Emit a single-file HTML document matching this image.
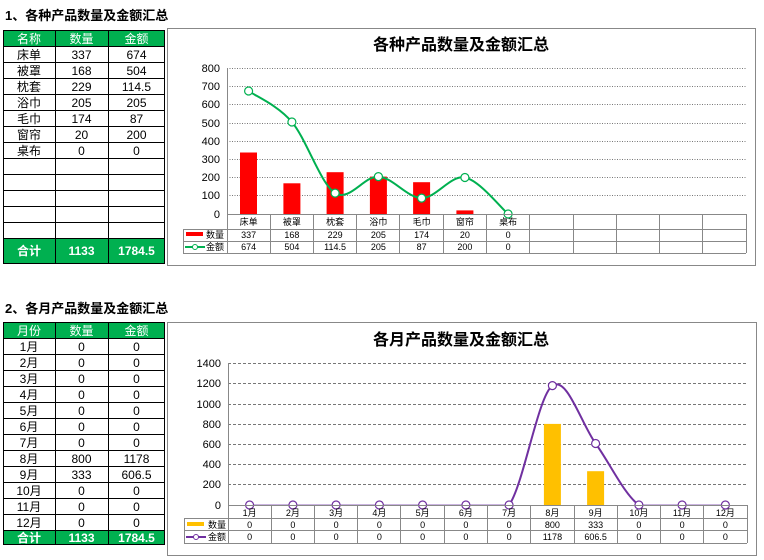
<!DOCTYPE html>
<html><head><meta charset="utf-8"><style>
body{margin:0;background:#fff;}
svg{display:block;font-family:"Liberation Sans","Noto Sans CJK SC",sans-serif;}
</style></head><body>
<svg width="764" height="560" viewBox="0 0 764 560" xmlns="http://www.w3.org/2000/svg">
<rect width="764" height="560" fill="#fff"/>
<text x="5" y="20" font-size="13" font-weight="bold" fill="#000">1、各种产品数量及金额汇总</text>
<text x="5" y="313" font-size="13" font-weight="bold" fill="#000">2、各月产品数量及金额汇总</text>

<!-- Table 1 -->
<rect x="3" y="30" width="162" height="16" fill="#00B050"/>
<rect x="3" y="238" width="162" height="26" fill="#00B050"/>
<g stroke="#000" stroke-width="1" fill="none">
<rect x="3.5" y="30.5" width="161" height="233"/>
<line x1="55.5" y1="30" x2="55.5" y2="264"/><line x1="108.5" y1="30" x2="108.5" y2="264"/>
<line x1="3" y1="46.5" x2="165" y2="46.5"/><line x1="3" y1="62.5" x2="165" y2="62.5"/><line x1="3" y1="78.5" x2="165" y2="78.5"/><line x1="3" y1="94.5" x2="165" y2="94.5"/><line x1="3" y1="110.5" x2="165" y2="110.5"/><line x1="3" y1="126.5" x2="165" y2="126.5"/><line x1="3" y1="142.5" x2="165" y2="142.5"/><line x1="3" y1="158.5" x2="165" y2="158.5"/><line x1="3" y1="174.5" x2="165" y2="174.5"/><line x1="3" y1="190.5" x2="165" y2="190.5"/><line x1="3" y1="206.5" x2="165" y2="206.5"/><line x1="3" y1="222.5" x2="165" y2="222.5"/><line x1="3" y1="238.5" x2="165" y2="238.5"/>
</g>
<g font-size="12" text-anchor="middle" fill="#000">
<text x="29" y="43" fill="#fff">名称</text><text x="81.5" y="43" fill="#fff">数量</text><text x="136.5" y="43" fill="#fff">金额</text>
<text x="29" y="59">床单</text><text x="81.5" y="59">337</text><text x="136.5" y="59">674</text>
<text x="29" y="75">被罩</text><text x="81.5" y="75">168</text><text x="136.5" y="75">504</text>
<text x="29" y="91">枕套</text><text x="81.5" y="91">229</text><text x="136.5" y="91">114.5</text>
<text x="29" y="107">浴巾</text><text x="81.5" y="107">205</text><text x="136.5" y="107">205</text>
<text x="29" y="123">毛巾</text><text x="81.5" y="123">174</text><text x="136.5" y="123">87</text>
<text x="29" y="139">窗帘</text><text x="81.5" y="139">20</text><text x="136.5" y="139">200</text>
<text x="29" y="155">桌布</text><text x="81.5" y="155">0</text><text x="136.5" y="155">0</text>
<text x="29" y="255" fill="#fff" font-weight="bold">合计</text><text x="81.5" y="255" fill="#fff" font-weight="bold">1133</text><text x="136.5" y="255" fill="#fff" font-weight="bold">1784.5</text>
</g>

<!-- Table 2 -->
<rect x="3" y="322" width="162" height="16" fill="#00B050"/>
<rect x="3" y="530" width="162" height="15" fill="#00B050"/>
<g stroke="#000" stroke-width="1" fill="none">
<rect x="3.5" y="322.5" width="161" height="222"/>
<line x1="55.5" y1="322" x2="55.5" y2="545"/><line x1="108.5" y1="322" x2="108.5" y2="545"/>
<line x1="3" y1="338.5" x2="165" y2="338.5"/><line x1="3" y1="354.5" x2="165" y2="354.5"/><line x1="3" y1="370.5" x2="165" y2="370.5"/><line x1="3" y1="386.5" x2="165" y2="386.5"/><line x1="3" y1="402.5" x2="165" y2="402.5"/><line x1="3" y1="418.5" x2="165" y2="418.5"/><line x1="3" y1="434.5" x2="165" y2="434.5"/><line x1="3" y1="450.5" x2="165" y2="450.5"/><line x1="3" y1="466.5" x2="165" y2="466.5"/><line x1="3" y1="482.5" x2="165" y2="482.5"/><line x1="3" y1="498.5" x2="165" y2="498.5"/><line x1="3" y1="514.5" x2="165" y2="514.5"/><line x1="3" y1="530.5" x2="165" y2="530.5"/>
</g>
<g font-size="12" text-anchor="middle" fill="#000">
<text x="29" y="335" fill="#fff">月份</text><text x="81.5" y="335" fill="#fff">数量</text><text x="136.5" y="335" fill="#fff">金额</text>
<text x="29" y="351">1月</text><text x="81.5" y="351">0</text><text x="136.5" y="351">0</text>
<text x="29" y="367">2月</text><text x="81.5" y="367">0</text><text x="136.5" y="367">0</text>
<text x="29" y="383">3月</text><text x="81.5" y="383">0</text><text x="136.5" y="383">0</text>
<text x="29" y="399">4月</text><text x="81.5" y="399">0</text><text x="136.5" y="399">0</text>
<text x="29" y="415">5月</text><text x="81.5" y="415">0</text><text x="136.5" y="415">0</text>
<text x="29" y="431">6月</text><text x="81.5" y="431">0</text><text x="136.5" y="431">0</text>
<text x="29" y="447">7月</text><text x="81.5" y="447">0</text><text x="136.5" y="447">0</text>
<text x="29" y="463">8月</text><text x="81.5" y="463">800</text><text x="136.5" y="463">1178</text>
<text x="29" y="479">9月</text><text x="81.5" y="479">333</text><text x="136.5" y="479">606.5</text>
<text x="29" y="495">10月</text><text x="81.5" y="495">0</text><text x="136.5" y="495">0</text>
<text x="29" y="511">11月</text><text x="81.5" y="511">0</text><text x="136.5" y="511">0</text>
<text x="29" y="527">12月</text><text x="81.5" y="527">0</text><text x="136.5" y="527">0</text>
<text x="29" y="542" fill="#fff" font-weight="bold">合计</text><text x="81.5" y="542" fill="#fff" font-weight="bold">1133</text><text x="136.5" y="542" fill="#fff" font-weight="bold">1784.5</text>
</g>

<!-- Chart 1 -->
<rect x="167.5" y="28.5" width="588" height="237" fill="#fff" stroke="#888"/>
<text x="461" y="50" font-size="16" font-weight="bold" text-anchor="middle">各种产品数量及金额汇总</text>
<g stroke="#777" stroke-dasharray="1,1.5" stroke-width="1">
<line x1="227" y1="68.5" x2="746" y2="68.5"/><line x1="227" y1="86.5" x2="746" y2="86.5"/><line x1="227" y1="104.5" x2="746" y2="104.5"/><line x1="227" y1="123.5" x2="746" y2="123.5"/><line x1="227" y1="141.5" x2="746" y2="141.5"/><line x1="227" y1="159.5" x2="746" y2="159.5"/><line x1="227" y1="177.5" x2="746" y2="177.5"/><line x1="227" y1="195.5" x2="746" y2="195.5"/>
</g>
<line x1="227.5" y1="68" x2="227.5" y2="253" stroke="#888"/>
<g font-size="11" text-anchor="end" fill="#000">
<text x="220" y="72">800</text><text x="220" y="90">700</text><text x="220" y="108">600</text><text x="220" y="127">500</text><text x="220" y="145">400</text><text x="220" y="163">300</text><text x="220" y="181">200</text><text x="220" y="199">100</text><text x="220" y="218">0</text>
</g>
<g fill="#FF0000">
<rect x="240" y="152.5" width="17" height="61.5"/><rect x="283.4" y="183.3" width="17" height="30.7"/><rect x="326.6" y="172.2" width="17" height="41.8"/><rect x="369.9" y="176.6" width="17" height="37.4"/><rect x="413.1" y="182.2" width="17" height="31.8"/><rect x="456.4" y="210.4" width="17" height="3.6"/>
</g>
<path d="M248.6,91 C255.8,96.2 277.5,105 291.9,122 C306.3,139 320.7,184 335.1,193.1 C349.5,202.2 364,175.8 378.4,176.6 C392.8,177.4 407.2,197.9 421.6,198.1 C436,198.3 450.5,174.9 464.9,177.5 C479.3,180.2 500.9,207.9 508.1,214" fill="none" stroke="#00B050" stroke-width="2"/>
<g fill="#fff" stroke="#00B050" stroke-width="1.2">
<circle cx="248.6" cy="91" r="4"/><circle cx="291.9" cy="122" r="4"/><circle cx="335.1" cy="193.1" r="4"/><circle cx="378.4" cy="176.6" r="4"/><circle cx="421.6" cy="198.1" r="4"/><circle cx="464.9" cy="177.5" r="4"/><circle cx="508.1" cy="214" r="4"/>
</g>
<g stroke="#888" stroke-width="1" fill="none">
<line x1="227" y1="214.5" x2="746" y2="214.5"/><line x1="183" y1="229.5" x2="746" y2="229.5"/><line x1="183" y1="241.5" x2="746" y2="241.5"/><line x1="183" y1="253.5" x2="746" y2="253.5"/>
<line x1="183.5" y1="229" x2="183.5" y2="253"/>
<line x1="270.5" y1="214" x2="270.5" y2="253"/><line x1="313.5" y1="214" x2="313.5" y2="253"/><line x1="356.5" y1="214" x2="356.5" y2="253"/><line x1="399.5" y1="214" x2="399.5" y2="253"/><line x1="443.5" y1="214" x2="443.5" y2="253"/><line x1="486.5" y1="214" x2="486.5" y2="253"/><line x1="529.5" y1="214" x2="529.5" y2="253"/><line x1="573.5" y1="214" x2="573.5" y2="253"/><line x1="616.5" y1="214" x2="616.5" y2="253"/><line x1="659.5" y1="214" x2="659.5" y2="253"/><line x1="702.5" y1="214" x2="702.5" y2="253"/><line x1="746.5" y1="214" x2="746.5" y2="253"/>
</g>
<rect x="186" y="232" width="17" height="4" fill="#FF0000"/>
<line x1="185" y1="247" x2="205" y2="247" stroke="#00B050" stroke-width="2"/><circle cx="195" cy="247" r="2.5" fill="#fff" stroke="#00B050"/>
<g font-size="9" text-anchor="middle" fill="#000">
<text x="215" y="238">数量</text><text x="215" y="250">金额</text>
<text x="248.6" y="225">床单</text><text x="291.9" y="225">被罩</text><text x="335.1" y="225">枕套</text><text x="378.4" y="225">浴巾</text><text x="421.6" y="225">毛巾</text><text x="464.9" y="225">窗帘</text><text x="508.1" y="225">桌布</text>
<text x="248.6" y="238">337</text><text x="291.9" y="238">168</text><text x="335.1" y="238">229</text><text x="378.4" y="238">205</text><text x="421.6" y="238">174</text><text x="464.9" y="238">20</text><text x="508.1" y="238">0</text>
<text x="248.6" y="250">674</text><text x="291.9" y="250">504</text><text x="335.1" y="250">114.5</text><text x="378.4" y="250">205</text><text x="421.6" y="250">87</text><text x="464.9" y="250">200</text><text x="508.1" y="250">0</text>
</g>

<!-- Chart 2 -->
<rect x="167.5" y="322.5" width="589" height="233" fill="#fff" stroke="#888"/>
<text x="461" y="345" font-size="16" font-weight="bold" text-anchor="middle">各月产品数量及金额汇总</text>
<g stroke="#777" stroke-dasharray="3,2" stroke-width="1">
<line x1="228" y1="363.5" x2="747" y2="363.5"/><line x1="228" y1="383.5" x2="747" y2="383.5"/><line x1="228" y1="404.5" x2="747" y2="404.5"/><line x1="228" y1="424.5" x2="747" y2="424.5"/><line x1="228" y1="444.5" x2="747" y2="444.5"/><line x1="228" y1="464.5" x2="747" y2="464.5"/><line x1="228" y1="484.5" x2="747" y2="484.5"/>
</g>
<line x1="228.5" y1="363" x2="228.5" y2="543" stroke="#888"/>
<g font-size="11" text-anchor="end" fill="#000">
<text x="221" y="367">1400</text><text x="221" y="387">1200</text><text x="221" y="408">1000</text><text x="221" y="428">800</text><text x="221" y="448">600</text><text x="221" y="468">400</text><text x="221" y="488">200</text><text x="221" y="509">0</text>
</g>
<g fill="#FFC000">
<rect x="543.9" y="423.9" width="17" height="81.1"/><rect x="587.1" y="471.2" width="17" height="33.8"/>
</g>
<line x1="249.6" y1="505" x2="509.1" y2="505" stroke="#C9B3DF" stroke-width="2"/>
<line x1="638.9" y1="505" x2="725.4" y2="505" stroke="#C9B3DF" stroke-width="2"/>
<path d="M509.1,505 C523.5,485.1 538,395.9 552.4,385.6 C566.8,375.4 581.2,423.6 595.6,443.5 C610,463.4 624.5,494.8 638.9,505" fill="none" stroke="#7030A0" stroke-width="2"/>
<g fill="#fff" stroke="#7030A0" stroke-width="1.2">
<circle cx="249.6" cy="505" r="4"/><circle cx="292.9" cy="505" r="4"/><circle cx="336.1" cy="505" r="4"/><circle cx="379.4" cy="505" r="4"/><circle cx="422.6" cy="505" r="4"/><circle cx="465.9" cy="505" r="4"/><circle cx="509.1" cy="505" r="4"/><circle cx="552.4" cy="385.6" r="4"/><circle cx="595.6" cy="443.5" r="4"/><circle cx="638.9" cy="505" r="4"/><circle cx="682.1" cy="505" r="4"/><circle cx="725.4" cy="505" r="4"/>
</g>
<g stroke="#888" stroke-width="1" fill="none">
<line x1="228" y1="505.5" x2="747" y2="505.5"/><line x1="184" y1="518.5" x2="747" y2="518.5"/><line x1="184" y1="530.5" x2="747" y2="530.5"/><line x1="184" y1="543.5" x2="747" y2="543.5"/>
<line x1="184.5" y1="518" x2="184.5" y2="543"/>
<line x1="271.5" y1="505" x2="271.5" y2="543"/><line x1="314.5" y1="505" x2="314.5" y2="543"/><line x1="357.5" y1="505" x2="357.5" y2="543"/><line x1="400.5" y1="505" x2="400.5" y2="543"/><line x1="444.5" y1="505" x2="444.5" y2="543"/><line x1="487.5" y1="505" x2="487.5" y2="543"/><line x1="530.5" y1="505" x2="530.5" y2="543"/><line x1="574.5" y1="505" x2="574.5" y2="543"/><line x1="617.5" y1="505" x2="617.5" y2="543"/><line x1="660.5" y1="505" x2="660.5" y2="543"/><line x1="703.5" y1="505" x2="703.5" y2="543"/><line x1="747.5" y1="505" x2="747.5" y2="543"/>
</g>
<rect x="187" y="522" width="17" height="4" fill="#FFC000"/>
<line x1="186" y1="537" x2="206" y2="537" stroke="#7030A0" stroke-width="2"/><circle cx="196" cy="537" r="2.5" fill="#fff" stroke="#7030A0"/>
<g font-size="9" text-anchor="middle" fill="#000">
<text x="217" y="528">数量</text><text x="217" y="540">金额</text>
<text x="249.6" y="516">1月</text><text x="292.9" y="516">2月</text><text x="336.1" y="516">3月</text><text x="379.4" y="516">4月</text><text x="422.6" y="516">5月</text><text x="465.9" y="516">6月</text><text x="509.1" y="516">7月</text><text x="552.4" y="516">8月</text><text x="595.6" y="516">9月</text><text x="638.9" y="516">10月</text><text x="682.1" y="516">11月</text><text x="725.4" y="516">12月</text>
<text x="249.6" y="528">0</text><text x="292.9" y="528">0</text><text x="336.1" y="528">0</text><text x="379.4" y="528">0</text><text x="422.6" y="528">0</text><text x="465.9" y="528">0</text><text x="509.1" y="528">0</text><text x="552.4" y="528">800</text><text x="595.6" y="528">333</text><text x="638.9" y="528">0</text><text x="682.1" y="528">0</text><text x="725.4" y="528">0</text>
<text x="249.6" y="540">0</text><text x="292.9" y="540">0</text><text x="336.1" y="540">0</text><text x="379.4" y="540">0</text><text x="422.6" y="540">0</text><text x="465.9" y="540">0</text><text x="509.1" y="540">0</text><text x="552.4" y="540">1178</text><text x="595.6" y="540">606.5</text><text x="638.9" y="540">0</text><text x="682.1" y="540">0</text><text x="725.4" y="540">0</text>
</g>
</svg>
</body></html>
